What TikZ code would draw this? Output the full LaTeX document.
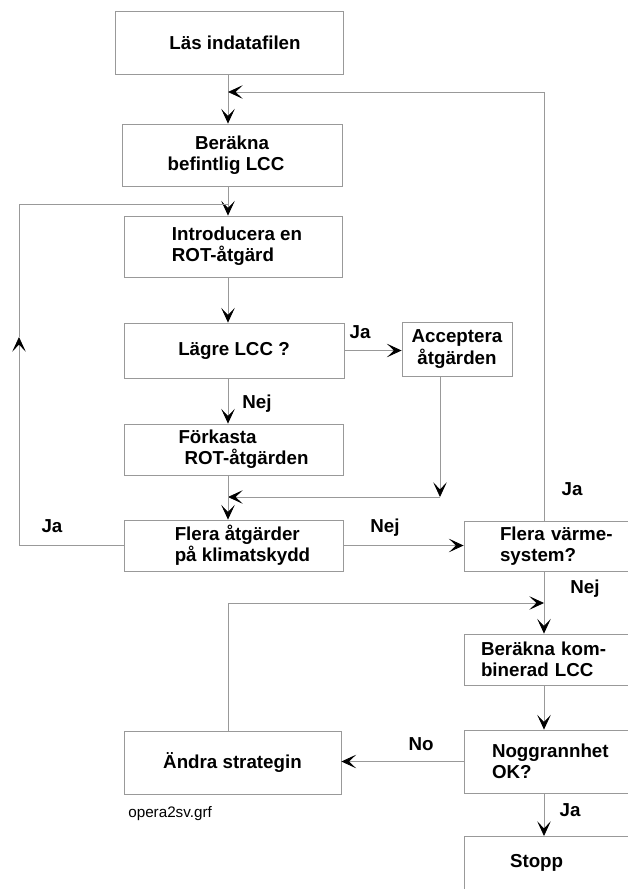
\documentclass[tikz,border=0pt]{standalone}
\usepackage{fontspec}
\setmainfont{Liberation Sans}
\usetikzlibrary{
    arrows.meta,             % For modern arrow tips
    positioning              % For relative placement of nodes
}
\newlength{\pxu}
\setlength{\pxu}{0.03cm}

\begin{document}
\begin{tikzpicture}[
    x=0.03cm, y=-0.03cm,
    font=\fontsize{16}{18}\selectfont\bfseries,
    line width=0.7pt,
    arrow/.style={draw=gray!80, -{Stealth[length=12.5pt, width=11.5pt, inset=6pt, color=black]}},
    plainline/.style={draw=gray!80},
    procbox/.style={
        draw=gray!80,
        inner sep=0pt,
        align=center
    },
    rightbox/.style={
        procbox,
        minimum width=220\pxu,
        align=left
    }
]
    \path[use as bounding box] (0,0) rectangle (628,889);
    \clip (0,0) rectangle (628,889);

    % --- Column lines ---
    \coordinate (colL) at (228,0);
    \coordinate (colR) at (544,0);
    \coordinate (colA) at (440,0);

    % --- Left column boxes ---
    \node[procbox, minimum width=228\pxu, minimum height=63\pxu] (las) at (229,42.5) {\hspace*{12\pxu}Läs indatafilen};
    \node[procbox, minimum width=220\pxu, minimum height=62\pxu] (ber1) at (232,155) {Beräkna\\befintlig LCC\hspace*{12\pxu}};
    \node[procbox, align=left, minimum width=218\pxu, minimum height=61\pxu] (intro) at (233,246.5) {\hspace*{8\pxu}Introducera en\\\hspace*{8\pxu}ROT-åtgärd};
    \node[procbox, minimum width=220\pxu, minimum height=55\pxu] (lagre) at (234,350.5) {Lägre LCC ?};
    \node[procbox, minimum width=110\pxu, minimum height=54\pxu] (acc) at (457,349) {Acceptera\\åtgärden};
    \node[procbox, align=left, minimum width=219\pxu, minimum height=51\pxu] (fork) at (233.5,449.5) {\hspace*{20\pxu}Förkasta\\\hspace*{26\pxu}ROT-åtgärden};
    \node[procbox, align=left, minimum width=219\pxu, minimum height=51\pxu] (flera) at (233.5,545.5) {\hspace*{18\pxu}Flera åtgärder\\\hspace*{18\pxu}på klimatskydd};
    \node[procbox, minimum width=217\pxu, minimum height=63\pxu] (andra) at (232.5,762.5) {Ändra strategin};

    % --- Right column boxes (cut off by the page edge) ---
    \node[rightbox, text width=148\pxu, minimum height=50\pxu] (varme) at (574,546) {Flera värme-\\system?};
    \node[rightbox, text width=186\pxu, minimum height=51\pxu] (komb) at (574,659.5) {Beräkna kom-\\binerad LCC};
    \node[rightbox, text width=164\pxu, minimum height=63\pxu] (nogg) at (574,761.5) {Noggrannhet\\OK?};
    \node[rightbox, text width=128\pxu, text height=31\pxu, text depth=40\pxu, anchor=north] (stopp) at (574,836) {Stopp};

    % --- Branch labels ---
    \node (ja1) at (360,332) {Ja};
    \node (nej1) at (257,404) {Nej};
    \node (ja2) at (52,526) {Ja};
    \node (nej2) at (385,528) {Nej};
    \node (ja3) at (572,489) {Ja};
    \node (nej3) at (585,589) {Nej};
    \node (no1) at (421,744) {No};
    \node (ja4) at (570,810) {Ja};
    \node[font=\fontsize{13}{15}\selectfont, anchor=west] (fname) at (124,814) {opera2sv.grf};

    % --- Join points ---
    \coordinate (topin) at (228,92);
    \coordinate (loopin) at (228,204);
    \coordinate (loopmid) at (19,337);
    \coordinate (accturn) at (440,497);
    \coordinate (backin) at (544,603);

    % --- Connectors ---
    \draw[arrow] (las.south -| colL) -- (ber1.north -| colL);
    \draw[arrow] (varme.north -| colR) |- (topin);
    \draw[arrow] (ber1.south -| colL) -- (intro.north -| colL);
    \draw[arrow] (intro.south -| colL) -- (lagre.north -| colL);
    \draw[arrow] (lagre.east) -- (lagre.east -| acc.west);
    \draw[arrow] (lagre.south -| colL) -- (fork.north -| colL);
    \draw[arrow] (acc.south -| colA) -- (accturn);
    \draw[arrow] (accturn) -- (accturn -| colL);
    \draw[arrow] (fork.south -| colL) -- (flera.north -| colL);
    \draw[arrow] (flera.west) -| (loopmid);
    \draw[plainline] (loopmid) |- (loopin);
    \draw[arrow] (flera.east) -- (flera.east -| varme.west);
    \draw[arrow] (varme.south -| colR) -- (komb.north -| colR);
    \draw[arrow] (andra.north -| colL) |- (backin);
    \draw[arrow] (komb.south -| colR) -- (nogg.north -| colR);
    \draw[arrow] (nogg.west) -- (nogg.west -| andra.east);
    \draw[arrow] (nogg.south -| colR) -- (stopp.north -| colR);

\end{tikzpicture}
\end{document}
